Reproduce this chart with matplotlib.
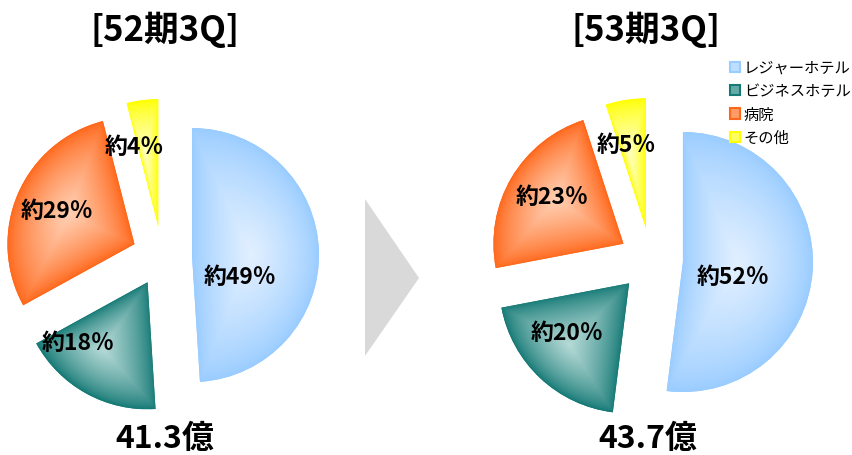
import numpy as np
import matplotlib
matplotlib.use("Agg")
import matplotlib.pyplot as plt
from matplotlib.patches import Polygon, Patch
from matplotlib.colors import to_rgb

plt.rcParams['font.family'] = ['Noto Sans CJK JP', 'DejaVu Sans']

# ---- data ----
categories = ["レジャーホテル", "ビジネスホテル", "病院", "その他"]
periods = ["52期3Q", "53期3Q"]
shares_52 = [49, 18, 29, 4]
shares_53 = [52, 20, 23, 5]
totals = [41.3, 43.7]  # 億円

# ---- styles ----
edge_colors = ["#99ccff", "#167a76", "#ff671a", "#ffff00"]
center_colors = ["#e2f0ff", "#b6dad7", "#ffd0b4", "#ffffc4"]

W, H = 853, 456

# layout in pixel units (y measured from the top)
pie_centers = [(162, 257), (651, 261)]
pie_radii = [127, 130]
pie_explode = [30, 32]
label_pos = [
    [(240, 277), (78, 344), (57, 212), (134, 148)],
    [(733, 277), (567, 334), (552, 197), (626, 145)],
]
title_pos = [(165, 30), (646, 30)]
total_pos = [(165, 439), (648, 439)]


def _inside(px, py, cx, cy, r, t1, t2):
    dx, dy = px - cx, py - cy
    ang = np.mod(np.arctan2(dy, dx) - t1, 2 * np.pi)
    return (np.hypot(dx, dy) <= r) & (ang <= (t2 - t1))


def shade_wedge(ax, w, c_edge, c_mid):
    """Path gradient: the wedge outline shrinks towards a focus point."""
    cx, cy = w.center
    r = w.r
    t1, t2 = np.deg2rad(w.theta1), np.deg2rad(w.theta2)
    # focus: between the bounding-box centre and the centroid
    arc = np.linspace(t1, t2, 400)
    bx = np.concatenate([[cx], cx + r * np.cos(arc)])
    by = np.concatenate([[cy], cy + r * np.sin(arc)])
    alpha = t2 - t1
    dc = 2 * r * np.sin(alpha / 2) / (3 * alpha / 2)
    mid = 0.5 * (t1 + t2)
    gx = 0.5 * ((bx.min() + bx.max()) / 2 + cx + dc * np.cos(mid))
    gy = 0.5 * ((by.min() + by.max()) / 2 + cy + dc * np.sin(mid))
    # distance from the focus to the outline in every direction
    phis = np.linspace(-np.pi, np.pi, 1441)
    steps = np.arange(0, 2.2 * r, 0.25)
    PX = gx + np.cos(phis)[:, None] * steps[None, :]
    PY = gy + np.sin(phis)[:, None] * steps[None, :]
    ins = _inside(PX, PY, cx, cy, r, t1, t2)
    first_out = np.argmax(~ins, axis=1)
    L = np.maximum(steps[np.maximum(first_out - 1, 0)], 1.0)
    # pixel grid
    n = int(2 * r) + 1
    xs = np.linspace(cx - r, cx + r, n)
    ys = np.linspace(cy - r, cy + r, n)
    X, Y = np.meshgrid(xs, ys)
    phi = np.arctan2(Y - gy, X - gx)
    Lp = np.interp(phi, phis, L)
    s = np.clip(np.hypot(X - gx, Y - gy) / Lp, 0, 1)
    f = (1 - s) ** 0.75
    e = np.array(to_rgb(c_edge))
    m = np.array(to_rgb(c_mid))
    img = e + (m - e) * f[..., None]
    im = ax.imshow(img, extent=(cx - r, cx + r, cy - r, cy + r), origin="lower",
                   interpolation="bilinear", zorder=w.get_zorder() + 0.1)
    im.set_clip_path(w)


fig = plt.figure(figsize=(W / 100, H / 100), dpi=100)
ax = fig.add_axes([0, 0, 1, 1])

for k, shares in enumerate([shares_52, shares_53]):
    cx, cy = pie_centers[k]
    wedges, _ = ax.pie(shares, explode=[pie_explode[k]] * len(shares),
                       startangle=90, counterclock=False,
                       radius=pie_radii[k], center=(cx, H - cy),
                       colors=edge_colors, wedgeprops=dict(linewidth=0),
                       frame=False)
    for w, ce, cm in zip(wedges, edge_colors, center_colors):
        shade_wedge(ax, w, ce, cm)
    for (lx, ly), v in zip(label_pos[k], shares):
        ax.text(lx, H - ly, f"約{v}％", ha="center", va="center",
                fontsize=16.5, fontweight="bold", color="black", zorder=10)
    tx, ty = title_pos[k]
    ax.text(tx, H - ty, f"[{periods[k]}]", ha="center", va="center",
            fontsize=25, fontweight="bold", color="black")
    sx, sy = total_pos[k]
    ax.text(sx, H - sy, f"{totals[k]}億", ha="center", va="center",
            fontsize=23, fontweight="bold", color="black")

# arrow between the two periods
ax.add_patch(Polygon([(365, H - 200), (365, H - 357), (419, H - 279)],
                     closed=True, facecolor="#d9d9d9", edgecolor="none"))

legend_faces = [tuple(0.5 * (np.array(to_rgb(a)) + np.array(to_rgb(b))))
                for a, b in zip(edge_colors, center_colors)]
handles = [Patch(facecolor=fc, edgecolor=ce, linewidth=1.5)
           for ce, fc in zip(edge_colors, legend_faces)]
ax.legend(handles, categories, loc="upper left",
          bbox_to_anchor=(730 / W, 1 - 60 / H), frameon=False,
          fontsize=11, handlelength=0.65, handleheight=0.65,
          handletextpad=0.25, labelspacing=0.42, borderpad=0, borderaxespad=0)

ax.set_xlim(0, W)
ax.set_ylim(0, H)
ax.set_aspect("auto")
ax.axis("off")

fig.savefig("out.png", dpi=100, facecolor="white")
